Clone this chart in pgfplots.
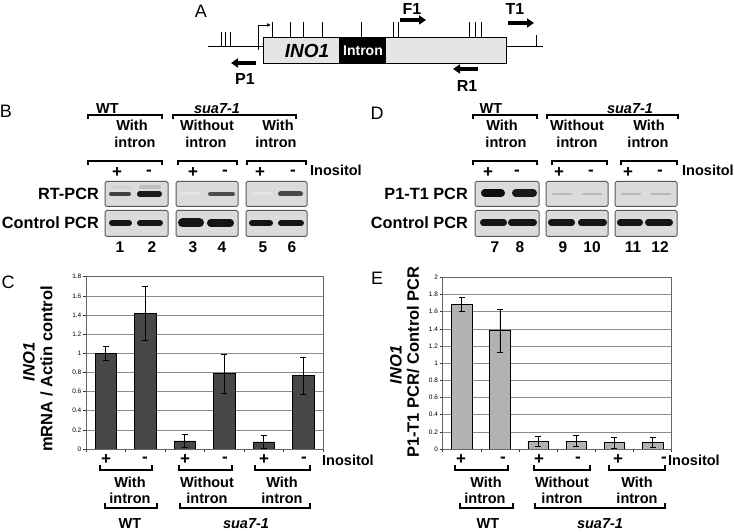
\documentclass[border=0pt]{standalone}
\usepackage{pgfplots}
\pgfplotsset{compat=1.18}
\usetikzlibrary{arrows.meta}
\usepackage{fontspec}
\setmainfont{Liberation Sans}
\newcommand{\fs}[1]{\fontsize{#1}{#1}\selectfont}
% bracket with ends pointing down (above content)
\newcommand{\bru}[3]{\draw[line width=1.4pt] (#1,#3+4.5) -- (#1,#3) -- (#2,#3) -- (#2,#3+4.5);}
% bracket with ends pointing up (below content)
\newcommand{\brd}[3]{\draw[line width=1.4pt] (#1,#3-5) -- (#1,#3) -- (#2,#3) -- (#2,#3-5);}
\newcommand{\gelbox}[4]{\draw[fill=black!14, draw=black!65, line width=1pt, rounded corners=1.5pt] (#1,#3) rectangle (#2,#4);}
\newcommand{\band}[5]{\draw[line width=#4pt, line cap=round, #5] ({#1+#4/2},#3) -- ({#2-#4/2},#3);}
\pgfplotstableread{
x y e
1 1.00 0.073
2 1.415 0.283
3 0.085 0.067
4 0.786 0.200
5 0.075 0.068
6 0.765 0.190
}\dataC
\pgfplotstableread{
x y e
1 1.685 0.078
2 1.377 0.250
3 0.090 0.062
4 0.090 0.064
5 0.075 0.062
6 0.080 0.056
}\dataE
\begin{document}
\begin{tikzpicture}
\useasboundingbox (0,0) rectangle (734pt,532pt);
\begin{scope}[x=1pt,y=-1pt,yshift=532pt]
\tikzset{
 t/.style={inner sep=0pt, font=\fs{14.5}\bfseries},
 pm/.style={inner sep=0pt, font=\fs{17}\bfseries},
 lb/.style={inner sep=0pt, font=\fs{16.3}\bfseries},
 pl/.style={inner sep=0pt, font=\fs{18}},
 pa/.style={line width=3.2pt, -{Triangle[length=7pt,width=9pt]}},
}
% ---------------- Panel A ----------------
\node[pl] at (201,11) {A};
\draw[line width=0.8pt] (208,46) -- (543,46);
\foreach \xx in {221.7,225.7,230} \draw[line width=0.8pt] (\xx,46) -- (\xx,31.7);
\draw[fill=black!10, line width=0.8pt] (263.3,37.3) rectangle (506.7,63.3);
\fill[black] (339,37.3) rectangle (385.7,63.3);
\draw[line width=0.8pt] (263.3,37.3) rectangle (506.7,63.3);
\node[inner sep=0pt, font=\fs{19}\bfseries\itshape] at (307,51) {INO1};
\node[inner sep=0pt, font=\fs{14}\bfseries, text=white] at (363,50.5) {Intron};
\draw[line width=0.8pt, -{Latex[length=4pt,width=4pt]}] (258.3,50) -- (258.3,25) -- (271,25);
\foreach \xx in {272.5,290.7,303.3,322.7,361,393.3,398.3,469.3,475,481} \draw[line width=0.8pt] (\xx,37.3) -- (\xx,22);
\draw[line width=0.8pt] (536,46) -- (536,35);
\draw[pa] (400,20) -- (426,20);
\node[pm,font=\fs{16}\bfseries] at (412,9) {F1};
\draw[pa] (508,23) -- (534,23);
\node[pm,font=\fs{16}\bfseries] at (515,9) {T1};
\draw[pa] (256,63) -- (231,63);
\node[pm,font=\fs{16}\bfseries] at (245,79) {P1};
\draw[pa] (478,69) -- (453,69);
\node[pm,font=\fs{16}\bfseries] at (467,86) {R1};
% ---------------- Panel B ----------------
\node[pl] at (6,111) {B};
\node[t] at (107.5,108.5) {WT}; \bru{88}{162}{115}
\node[t] at (217,108.5) {\itshape sua7-1}; \bru{173}{296}{115}
\node[t] at (132,125.5) {With}; \node[t] at (135,142.5) {intron};
\node[t] at (207,125.5) {Without}; \node[t] at (206,142.5) {intron};
\node[t] at (278,125.5) {With}; \node[t] at (276,142.5) {intron};
\bru{88}{162}{161} \bru{178}{237}{161} \bru{247}{306}{161}
\foreach \xx/\s in {117/+,149/-,193/+,225/-,260/+,293/-} \node[pm] at (\xx,173) {\s};
\node[t, anchor=west] at (310,170) {Inositol};
\node[lb, anchor=east] at (99,194) {RT-PCR};
\node[lb, anchor=east] at (99,223) {Control PCR};
\gelbox{105}{168}{181.5}{206.5} \gelbox{176}{238}{181.5}{206.5} \gelbox{246}{307}{181.5}{206.5}
\gelbox{105}{168}{210.5}{236.5} \gelbox{176}{238}{210.5}{236.5} \gelbox{246}{307}{210.5}{236.5}
\band{111}{131}{187.5}{3}{black!18}
\band{139}{161}{187}{3.5}{black!25}
\band{109}{131}{194}{4.5}{black!75}
\band{137}{162}{194}{5.5}{black!90}
\band{179}{200}{194}{3}{black!10}
\band{208}{235}{194}{4.5}{black!70}
\band{250}{272}{194}{3}{black!10}
\band{278}{303}{194}{5}{black!72}
\band{109}{132}{223}{6}{black!92}
\band{137}{163}{223}{6}{black!92}
\band{178}{204}{223}{9}{black!92}
\band{207}{234}{223}{7.5}{black!92}
\band{249}{273}{223}{6}{black!92}
\band{278}{304}{223}{6.5}{black!92}
\foreach \xx/\s in {120/1,152/2,193/3,222/4,263/5,292/6} \node[lb,font=\fs{15.5}\bfseries] at (\xx,247) {\s};
% ---------------- Panel D ----------------
\node[pl] at (377,113) {D};
\node[t] at (491,108.5) {WT}; \bru{473}{537}{115}
\node[t] at (630,108.5) {\itshape sua7-1}; \bru{547}{678}{115}
\node[t] at (502,125.5) {With}; \node[t] at (506,142.5) {intron};
\node[t] at (577,125.5) {Without}; \node[t] at (577,142.5) {intron};
\node[t] at (649,125.5) {With}; \node[t] at (648,142.5) {intron};
\bru{473}{537}{161} \bru{552}{607}{161} \bru{621}{677}{161}
\foreach \xx/\s in {488/+,517/-,559/+,591/-,628/+,660/-} \node[pm] at (\xx,173) {\s};
\node[t, anchor=west] at (682,170) {Inositol};
\node[lb, anchor=east] at (468,194) {P1-T1 PCR};
\node[lb, anchor=east] at (468,223) {Control PCR};
\gelbox{475}{539}{181.5}{206.5} \gelbox{546}{608}{181.5}{206.5} \gelbox{615}{677}{181.5}{206.5}
\gelbox{475}{539}{210.5}{236.5} \gelbox{546}{608}{210.5}{236.5} \gelbox{615}{677}{210.5}{236.5}
\band{481}{505}{193}{7.5}{black!95}
\band{512}{537}{193}{7.5}{black!90}
\band{552}{572}{194}{1.3}{black!28}
\band{582}{602}{194}{1.3}{black!28}
\band{621}{641}{194}{1.3}{black!28}
\band{651}{671}{194}{1.3}{black!28}
\band{480}{507}{222.5}{6.5}{black!92}
\band{508}{537}{222.5}{6.5}{black!92}
\band{548}{575}{222.5}{6.5}{black!92}
\band{578}{607}{222.5}{6.5}{black!92}
\band{617}{643}{222.5}{6.5}{black!92}
\band{645}{673}{222.5}{6.5}{black!92}
\foreach \xx/\s in {495/7,520/8,563/9,592/10,633/11,660/12} \node[lb,font=\fs{15.5}\bfseries] at (\xx,247) {\s};
% ---------------- Panel C labels ----------------
\node[pl] at (8,282) {C};
\node[inner sep=0pt, font=\fs{16.5}\bfseries\itshape, rotate=90] at (29,362) {INO1};
\node[inner sep=0pt, font=\fs{16.5}\bfseries, rotate=90] at (46.5,369) {mRNA / Actin control};
\foreach \xx/\s in {106/+,145/-,185/+,225/-,264/+,304/-} \node[pm] at (\xx,460) {\s};
\node[t, anchor=west] at (322,460) {Inositol};
\brd{100}{152}{470} \brd{179}{232}{470} \brd{255}{310}{470}
\node[t] at (130,482) {With}; \node[t] at (130,498) {intron};
\node[t] at (207,482) {Without}; \node[t] at (207,498) {intron};
\node[t] at (282,482) {With}; \node[t] at (282,498) {intron};
\brd{105}{157}{508} \brd{180}{310}{508}
\node[t] at (130,523.5) {WT};
\node[t] at (246,523.5) {\itshape sua7-1};
% ---------------- Panel E labels ----------------
\node[pl] at (377,278) {E};
\node[inner sep=0pt, font=\fs{16.5}\bfseries\itshape, rotate=90] at (396,365) {INO1};
\node[inner sep=0pt, font=\fs{16.5}\bfseries, rotate=90] at (413,362) {P1-T1 PCR/ Control PCR};
\foreach \xx/\s in {461/+,503/-,539/+,578/-,618/+,664/-} \node[pm] at (\xx,460) {\s};
\node[t, anchor=west] at (668,460) {Inositol};
\brd{455}{508}{470} \brd{534}{590}{470} \brd{609}{665}{470}
\node[t] at (486,482) {With}; \node[t] at (485,498) {intron};
\node[t] at (562,482) {Without}; \node[t] at (562,498) {intron};
\node[t] at (637,482) {With}; \node[t] at (637,498) {intron};
\brd{460}{513}{508} \brd{535}{665}{508}
\node[t] at (488,523.5) {WT};
\node[t] at (600,523.5) {\itshape sua7-1};
\end{scope}
% ---------------- Charts ----------------
\pgfplotsset{gelaxis/.style={
  anchor=south west, scale only axis,
  xmin=0.5, xmax=6.5, ymin=0,
  xtick={0.5,1.5,2.5,3.5,4.5,5.5,6.5}, xticklabels={},
  xtick pos=bottom, ytick pos=left,
  tick align=outside, major tick length=3pt,
  ymajorgrids, grid style={black!45, line width=0.6pt},
  axis line style={black!60, line width=0.6pt},
  tick style={black!80, line width=0.6pt},
  yticklabel style={font=\fs{6.5}, inner sep=1.5pt},
  /pgf/number format/fixed, /pgf/number format/precision=1,
  /pgf/number format/assume math mode=true,
}}
\begin{axis}[gelaxis, at={(86pt,83pt)}, width=237pt, height=172.3pt,
  ymax=1.8, ytick={0,0.2,0.4,0.6,0.8,1,1.2,1.4,1.6,1.8}]
\addplot[ybar, bar width=0.54, fill=black!72, draw=black, line width=0.6pt,
  error bars/.cd, y dir=both, y explicit,
  error bar style={line width=0.6pt, black},
  error mark options={rotate=90, mark size=3pt, line width=0.6pt, black}]
  table[x=x, y=y, y error=e] {\dataC};
\end{axis}
\begin{axis}[gelaxis, at={(442.7pt,83pt)}, width=229pt, height=171.7pt,
  ymax=2, ytick={0,0.2,0.4,0.6,0.8,1,1.2,1.4,1.6,1.8,2}]
\addplot[ybar, bar width=0.54, fill=black!30, draw=black, line width=0.6pt,
  error bars/.cd, y dir=both, y explicit,
  error bar style={line width=0.6pt, black},
  error mark options={rotate=90, mark size=3pt, line width=0.6pt, black}]
  table[x=x, y=y, y error=e] {\dataE};
\end{axis}
\end{tikzpicture}
\end{document}
